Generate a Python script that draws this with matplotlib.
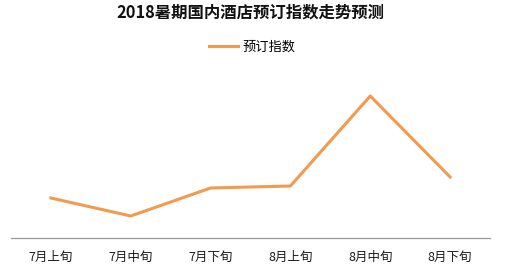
import matplotlib.pyplot as plt

plt.rcParams['font.family'] = ['Noto Sans CJK SC', 'DejaVu Sans']

periods = ["7月上旬", "7月中旬", "7月下旬", "8月上旬", "8月中旬", "8月下旬"]
booking_index = [40, 22, 50, 52, 142, 61]

fig = plt.figure(figsize=(5.15, 2.73), dpi=100)
ax = fig.add_axes([11 / 515, 35 / 273, 479 / 515, 168 / 273])

x = range(len(periods))
ax.plot(x, booking_index, color="#F29A4E", linewidth=2.2, label="预订指数")

ax.set_xlim(-0.5, len(periods) - 0.5)
ax.set_ylim(0, 168)
ax.set_xticks(list(x))
ax.set_xticklabels(periods, fontsize=9, color="#1a1a1a")
ax.tick_params(axis="x", length=0, pad=9)
ax.set_yticks([])

for side in ["top", "right", "left"]:
    ax.spines[side].set_visible(False)
ax.spines["bottom"].set_color("#9a9a9a")
ax.spines["bottom"].set_linewidth(0.9)

fig.text(250 / 515, 1 - 13 / 273, "2018暑期国内酒店预订指数走势预测", ha="center", va="center",
         fontsize=11.8, fontweight="bold", color="#111111")

fig.legend(loc="center", bbox_to_anchor=(0.49, 1 - 47 / 273), frameon=False,
           fontsize=9.5, handlelength=2.2, handletextpad=0.3)

fig.savefig("out.png", dpi=100)
